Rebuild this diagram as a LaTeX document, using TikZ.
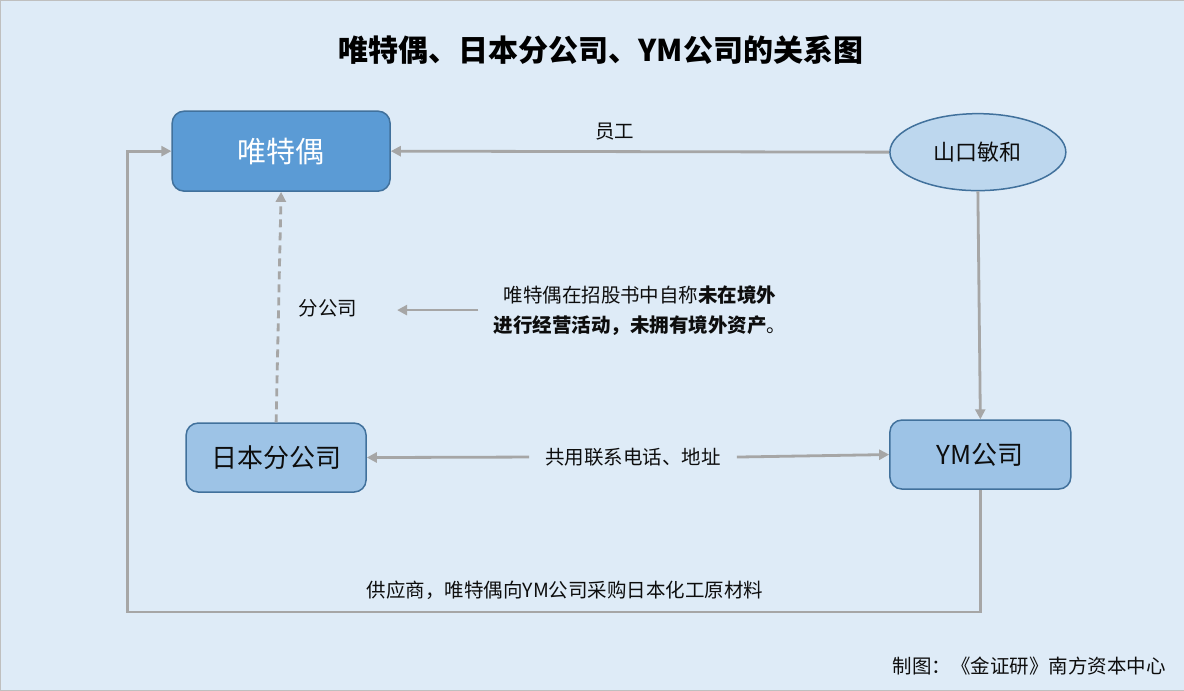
\documentclass[tikz,border=0pt]{standalone}
\usepackage{fontspec}
\setmainfont{Noto Sans CJK SC}
\usepackage{xcolor}
\usetikzlibrary{positioning}
\usetikzlibrary{shapes.geometric, arrows.meta}

\definecolor{bgblue}{RGB}{222,235,247}
\definecolor{darkblue}{RGB}{91,155,213}
\definecolor{midblue}{RGB}{157,195,230}
\definecolor{paleblue}{RGB}{189,215,238}
\definecolor{edgeblue}{RGB}{65,113,156}
\definecolor{linegray}{RGB}{166,166,166}
\definecolor{txt}{RGB}{13,13,13}

\tikzset{
    company/.style={draw=edgeblue, line width=1.5pt, rounded corners=12pt, fill=midblue, minimum width=181pt, minimum height=69pt, text=txt, font=\fontsize{26}{30}\selectfont},
    person/.style={ellipse, draw=edgeblue, line width=1.5pt, fill=paleblue, minimum width=176pt, minimum height=77pt, text=txt, font=\fontsize{22}{26}\selectfont},
    relation/.style={draw=linegray, line width=2.8pt, -{Triangle[length=10pt, width=10pt]}},
    relabel/.style={text=txt, font=\fontsize{19.5}{30}\selectfont},
}

\begin{document}
\begin{tikzpicture}[x=1pt, y=-1pt]
        \fill[bgblue, draw=black!25] (0,0) rectangle (1184,690); % background
        \useasboundingbox (0,0) rectangle (1184,690);
        \node [text=black, font=\fontsize{30}{32}\selectfont\bfseries] (title) at (601,50) {唯特偶、日本分公司、YM公司的关系图}; % title

        \node [company, fill=darkblue, minimum width=218pt, minimum height=80pt, text=white, font=\fontsize{29}{32}\selectfont] (wtw) at (281,151) {唯特偶}; % main company
        \node [person] (ymkh) at (978,152) {山口敏和}; % person
        \node [company, minimum width=180pt] (rbfgs) at (276,457.5) {日本分公司}; % branch in japan
        \node [company] (ym) at (980.5,454.5) {YM公司}; % supplier

        \node [relabel] (staff) at (615,131) {员工}; % label on top arrow
        \node [relabel] (fgs) at (328,308) {分公司}; % label on dashed arrow
        \coordinate (fgsR) at (397,310); % free end of the note arrow
        \node [relabel, align=center] (note) at (640,310) {唯特偶在招股书中自称\textbf{未在境外}\\\textbf{进行经营活动，未拥有境外资产}。}; % note
        \node [relabel, inner xsep=16pt] (share) at (633,457) {共用联系电话、地址}; % shared phone and address
        \node [relabel] (supply) at (565,590) {供应商，唯特偶向YM公司采购日本化工原材料}; % label on bottom loop
        \coordinate (loopL) at (127,612); % lower left corner of the loop
        \node [relabel, anchor=east, inner sep=0pt] (credit) at (1166,666) {制图：《金证研》南方资本中心}; % credit

        \draw [relation] (ymkh.west) -- (wtw.east);
        \draw [relation] (ymkh.south) -- (ym.north);
        \draw [relation, dash pattern=on 8pt off 5pt] (rbfgs.north) -- (wtw.south);
        \draw [relation] (note.west) ++(-12,0) -- (fgsR);
        \draw [relation] (share.west) -- (rbfgs.east);
        \draw [relation] (share.east) -- (ym.west);
        \draw [relation] (ym.south) |- (loopL) |- (wtw.west);
\end{tikzpicture}
\end{document}
